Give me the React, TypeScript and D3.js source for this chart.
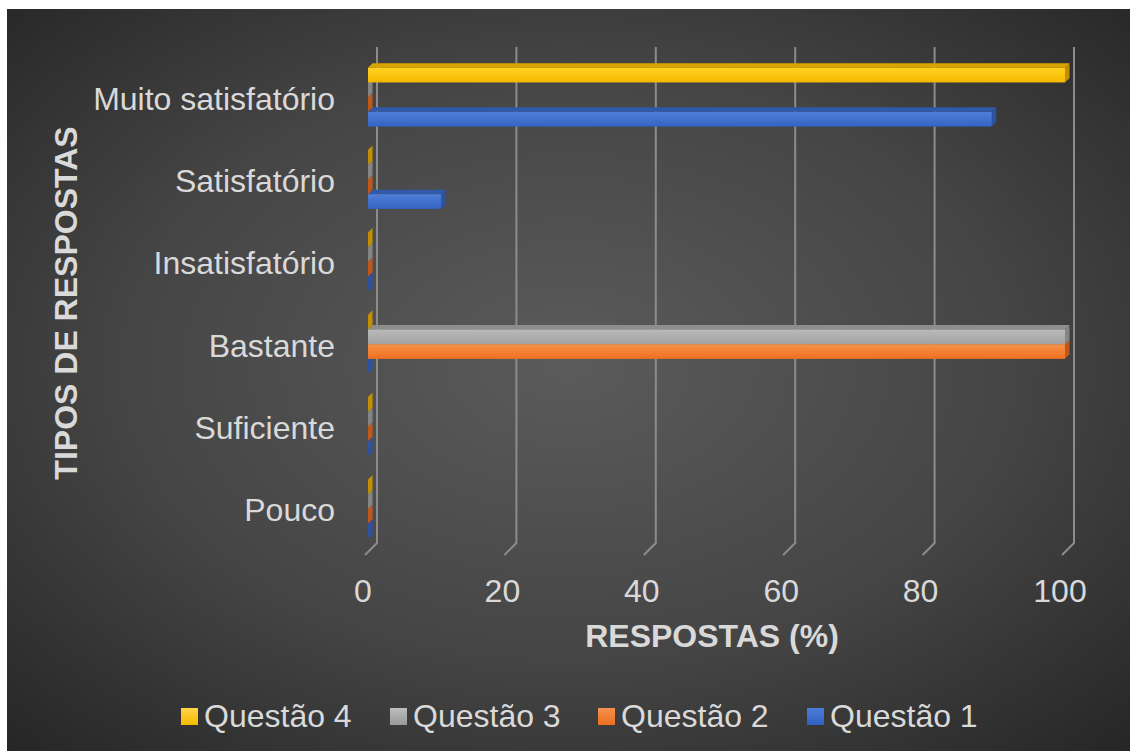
import React from "react";
import * as d3 from "d3";

const categories = ["Muito satisfatório", "Satisfatório", "Insatisfatório", "Bastante", "Suficiente", "Pouco"];
const seriesNames = ["Questão 4", "Questão 3", "Questão 2", "Questão 1"];
const q4 = [100, 0, 0, 0, 0, 0];
const q3 = [0, 0, 0, 100, 0, 0];
const q2 = [0, 0, 0, 100, 0, 0];
const q1 = [89.5, 10.5, 0, 0, 0, 0];
const xTicks = [0, 20, 40, 60, 80, 100];

const seriesValues = [q4, q3, q2, q1];
const palette = [
  { id: "y", front0: "#ffd21f", front1: "#f4b800", top: "#d9a400", side: "#c29000", leg0: "#ffd54a", leg1: "#f5b900" },
  { id: "g", front0: "#bababa", front1: "#a2a2a2", top: "#8e8e8e", side: "#858585", leg0: "#bdbdbd", leg1: "#999999" },
  { id: "o", front0: "#f8914a", front1: "#ee7020", top: "#c85a1a", side: "#c0581a", leg0: "#f79150", leg1: "#ec6f1f" },
  { id: "b", front0: "#4f7fd8", front1: "#3463c2", top: "#3159aa", side: "#2d52a0", leg0: "#4c7ed6", leg1: "#3160c0" },
];

const FONT = "'Liberation Sans', Arial, sans-serif";
const TEXT = "#d9d9d9";

export default function App() {
  const W = 1130, H = 751;
  const xF = d3.scaleLinear().domain([0, 100]).range([365, 1062]);
  const backDX = 12, backDY = -10;
  const barOff = 3; // bar front offset from front plane
  const dep = 4.5; // bar depth
  const yCat = d3.scaleBand<string>().domain(categories).range([56, 550]);
  const ySer = d3.scaleBand<string>().domain(seriesNames).range([0, yCat.step()]).paddingOuter(0.8);
  const gridTop = 47, gridBottom = 543;

  const bars: React.ReactNode[] = [];
  for (let c = 0; c < categories.length; c++) {
    for (let s = seriesNames.length - 1; s >= 0; s--) {
      const v = seriesValues[s][c];
      const p = palette[s];
      const yT = (yCat(categories[c]) as number) + (ySer(seriesNames[s]) as number);
      const yB = yT + ySer.bandwidth();
      const x0 = xF(0) + barOff;
      const x1 = xF(v) + barOff;
      const key = `${c}-${s}`;
      if (v > 0) {
        bars.push(
          <g key={key}>
            <polygon
              points={`${x0},${yT} ${x1},${yT} ${x1 + dep},${yT - dep} ${x0 + dep},${yT - dep}`}
              fill={p.top}
            />
            <polygon
              points={`${x1},${yT} ${x1 + dep},${yT - dep} ${x1 + dep},${yB - dep} ${x1},${yB}`}
              fill={p.side}
            />
            <rect x={x0} y={yT} width={x1 - x0} height={yB - yT} fill={`url(#front-${p.id})`} />
          </g>
        );
      } else {
        bars.push(
          <polygon
            key={key}
            points={`${x0},${yT} ${x0},${yB} ${x0 + dep},${yB - dep} ${x0 + dep},${yT - dep}`}
            fill={p.side}
          />
        );
      }
    }
  }

  const legendX = [181, 390, 598, 807];

  return (
    <div style={{ position: "absolute", left: 0, top: 0 }}>
      <svg width={W} height={H} style={{ display: "block" }}>
        <defs>
          <radialGradient id="bg" cx="0.5" cy="0.48" r="0.72">
            <stop offset="0" stopColor="#5b5b5b" />
            <stop offset="0.55" stopColor="#454545" />
            <stop offset="1" stopColor="#262626" />
          </radialGradient>
          {palette.map((p) => (
            <linearGradient key={p.id} id={`front-${p.id}`} x1="0" y1="0" x2="0" y2="1">
              <stop offset="0" stopColor={p.front0} />
              <stop offset="1" stopColor={p.front1} />
            </linearGradient>
          ))}
          {palette.map((p) => (
            <linearGradient key={"l" + p.id} id={`leg-${p.id}`} x1="0" y1="0" x2="0" y2="1">
              <stop offset="0" stopColor={p.leg0} />
              <stop offset="1" stopColor={p.leg1} />
            </linearGradient>
          ))}
        </defs>
        <rect x={0} y={0} width={W} height={H} fill="#ffffff" />
        <rect x={7} y={9} width={W - 7} height={H - 9} fill="url(#bg)" />

        {xTicks.map((t) => (
          <path
            key={t}
            d={`M${xF(t) + backDX},${gridTop} L${xF(t) + backDX},${gridBottom} L${xF(t)},${gridBottom - backDY + 2}`}
            fill="none"
            stroke="#8c8c8c"
            strokeWidth={2}
          />
        ))}

        {bars}

        {categories.map((c) => (
          <text
            key={c}
            x={335}
            y={(yCat(c) as number) + yCat.bandwidth() / 2 + 4}
            textAnchor="end"
            dominantBaseline="middle"
            fontFamily={FONT}
            fontSize={32}
            fill={TEXT}
          >
            {c}
          </text>
        ))}

        {xTicks.map((t) => (
          <text key={"t" + t} x={xF(t) - 2} y={602} textAnchor="middle" fontFamily={FONT} fontSize={32} fill={TEXT}>
            {t}
          </text>
        ))}

        <text x={712} y={647} textAnchor="middle" fontFamily={FONT} fontSize={32} fontWeight="bold" fill={TEXT}>
          RESPOSTAS (%)
        </text>
        <text
          transform={`translate(77,303) rotate(-90)`}
          textAnchor="middle"
          fontFamily={FONT}
          fontSize={32}
          fontWeight="bold"
          fill={TEXT}
        >
          TIPOS DE RESPOSTAS
        </text>

        {seriesNames.map((n, i) => (
          <g key={n}>
            <rect x={legendX[i]} y={708} width={17} height={17} fill={`url(#leg-${palette[i].id})`} />
            <text x={legendX[i] + 23} y={727} fontFamily={FONT} fontSize={32} fill={TEXT}>
              {n}
            </text>
          </g>
        ))}
      </svg>
    </div>
  );
}
